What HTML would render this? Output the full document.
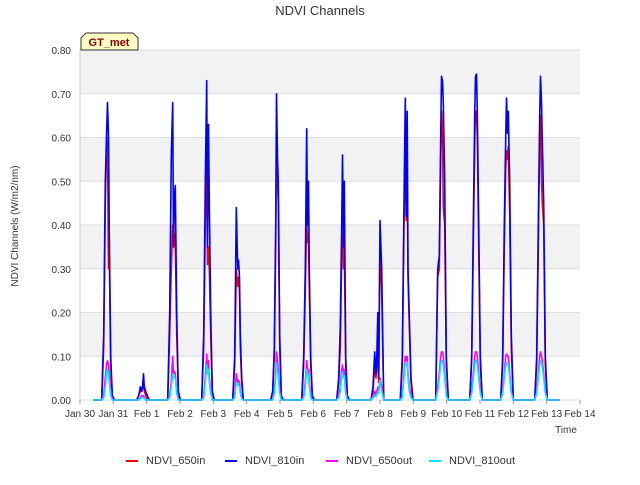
<!DOCTYPE html>
<html><head><meta charset="utf-8"><style>
body{margin:0;background:#fff;font-family:"Liberation Sans",sans-serif}
svg text{font-family:"Liberation Sans",sans-serif}
</style></head><body>
<svg id="c" width="640" height="480" xmlns="http://www.w3.org/2000/svg">
<rect width="640" height="480" fill="#fff"/>
<text x="320" y="15" text-anchor="middle" font-size="13" fill="#333">NDVI Channels</text>
<text transform="translate(18,226) rotate(-90)" text-anchor="middle" font-size="10" fill="#333">NDVI Channels (W/m2/nm)</text>
<text x="566" y="433" text-anchor="middle" font-size="10" fill="#333">Time</text>
<g id="bands"></g><g id="grid"></g><g id="ticks"></g><g id="series"></g>
<g>
<path d="M81,50 L81,38 L86,33 L133,33 L138,38 L138,50 Z" fill="#ffffc4" stroke="#333" stroke-width="1"/>
<text x="109" y="46" text-anchor="middle" font-size="11" font-weight="bold" fill="#8b0000">GT_met</text>
</g>
<g id="legend"></g>
</svg>
<script>
const yTicks=[0,0.1,0.2,0.3,0.4,0.5,0.6,0.7,0.8];
const xTickLabels=["Jan 30","Jan 31","Feb 1","Feb 2","Feb 3","Feb 4","Feb 5","Feb 6","Feb 7","Feb 8","Feb 9","Feb 10","Feb 11","Feb 12","Feb 13","Feb 14"];
const dayCenters=[0.84,1.89,2.82,3.84,4.77,5.91,6.84,7.89,8.92,9.8,10.86,11.88,12.81,13.83];
const offsets=[-0.19,-0.13,-0.08,-0.04,-0.015,0.015,0.04,0.08,0.13,0.19];
const ndvi650in=[
[0,0.12,0.45,0.6,0.58,0.3,0.33,0.08,0.01,0],
[0,0.01,0.02,0.02,0.03,0.03,0.02,0.01,0,0],
[0,0.15,0.3,0.4,0.35,0.38,0.36,0.15,0.02,0],
[0,0.12,0.4,0.55,0.31,0.35,0.3,0.15,0.02,0],
[0,0.08,0.3,0.26,0.28,0.25,0.12,0.04,0,0],
[0,0.02,0.1,0.35,0.6,0.5,0.45,0.12,0.01,0],
[0,0.08,0.25,0.42,0.36,0.38,0.25,0.08,0.01,0],
[0,0.04,0.12,0.33,0.38,0.3,0.35,0.08,0.01,0],
[0,0.02,0.08,0.05,0.08,0.12,0.04,0.35,0.25,0],
[0,0.08,0.4,0.6,0.41,0.52,0.28,0.17,0.04,0],
[0,0.28,0.3,0.55,0.66,0.62,0.44,0.4,0.08,0],
[0,0.09,0.35,0.58,0.66,0.66,0.6,0.35,0.08,0],
[0,0.08,0.35,0.53,0.57,0.55,0.58,0.42,0.12,0],
[0,0.08,0.35,0.6,0.65,0.5,0.45,0.4,0.08,0]];
const ndvi810in=[
[0,0.15,0.5,0.62,0.68,0.6,0.38,0.1,0.01,0],
[0,0.01,0.03,0.02,0.03,0.06,0.03,0.02,0.01,0],
[0,0.2,0.56,0.68,0.35,0.47,0.49,0.2,0.02,0],
[0,0.15,0.5,0.73,0.35,0.63,0.45,0.2,0.02,0],
[0,0.1,0.44,0.3,0.32,0.28,0.15,0.05,0,0],
[0,0.02,0.12,0.4,0.7,0.55,0.5,0.15,0.01,0],
[0,0.1,0.3,0.62,0.4,0.5,0.3,0.1,0.01,0],
[0,0.05,0.17,0.4,0.56,0.35,0.5,0.1,0.01,0],
[0,0.03,0.11,0.06,0.1,0.2,0.05,0.41,0.3,0],
[0,0.1,0.45,0.69,0.42,0.66,0.3,0.19,0.05,0],
[0,0.3,0.33,0.6,0.74,0.73,0.68,0.5,0.1,0],
[0,0.1,0.4,0.65,0.74,0.745,0.66,0.4,0.1,0],
[0,0.1,0.4,0.6,0.69,0.61,0.66,0.5,0.15,0],
[0,0.1,0.4,0.65,0.74,0.68,0.59,0.45,0.1,0]];
const ndvi650out=[
[0,0.01,0.05,0.085,0.09,0.08,0.06,0.02,0,0],
[0,0,0.005,0.01,0.01,0.01,0.005,0,0,0],
[0,0.01,0.04,0.1,0.06,0.065,0.06,0.02,0,0],
[0,0.01,0.05,0.105,0.07,0.09,0.05,0.02,0,0],
[0,0.01,0.06,0.04,0.045,0.04,0.02,0.005,0,0],
[0,0,0.02,0.06,0.11,0.09,0.07,0.02,0,0],
[0,0.01,0.04,0.09,0.07,0.07,0.04,0.01,0,0],
[0,0.01,0.03,0.07,0.08,0.06,0.07,0.02,0,0],
[0,0.01,0.02,0.01,0.02,0.03,0.02,0.05,0.03,0],
[0,0.01,0.06,0.1,0.09,0.1,0.06,0.03,0.01,0],
[0,0.03,0.06,0.1,0.11,0.11,0.1,0.06,0.01,0],
[0,0.02,0.06,0.1,0.11,0.11,0.1,0.06,0.02,0],
[0,0.02,0.06,0.1,0.105,0.1,0.1,0.06,0.02,0],
[0,0.02,0.06,0.1,0.11,0.1,0.09,0.06,0.02,0]];
const ndvi810out=[
[0,0.005,0.03,0.065,0.07,0.06,0.04,0.01,0,0],
[0,0,0.003,0.005,0.006,0.005,0.003,0,0,0],
[0,0.005,0.03,0.06,0.05,0.05,0.05,0.015,0,0],
[0,0.005,0.04,0.08,0.06,0.07,0.04,0.015,0,0],
[0,0.005,0.04,0.035,0.035,0.03,0.015,0.003,0,0],
[0,0,0.015,0.05,0.085,0.07,0.05,0.015,0,0],
[0,0.005,0.03,0.07,0.06,0.055,0.03,0.005,0,0],
[0,0.005,0.02,0.055,0.065,0.05,0.055,0.015,0,0],
[0,0.005,0.01,0.008,0.012,0.02,0.015,0.045,0.02,0],
[0,0.005,0.05,0.085,0.08,0.085,0.05,0.02,0.005,0],
[0,0.02,0.05,0.08,0.09,0.09,0.08,0.05,0.01,0],
[0,0.015,0.05,0.08,0.09,0.09,0.08,0.05,0.015,0],
[0,0.015,0.05,0.08,0.085,0.08,0.08,0.05,0.015,0],
[0,0.015,0.05,0.08,0.09,0.085,0.075,0.05,0.015,0]];
const seriesNames=["NDVI_650in","NDVI_810in","NDVI_650out","NDVI_810out"];
const seriesColors=["#ff0000","#0000ff","#ff00ff","#00e5ff"];
const seriesData=[ndvi650in,ndvi810in,ndvi650out,ndvi810out];

const NS="http://www.w3.org/2000/svg";
const X0=80,X1=580,Y0=400,Y1=50,YMAX=0.8,DAYS=15;
const xs=t=>X0+(X1-X0)*t/DAYS;
const ys=v=>Y0-(Y0-Y1)*v/YMAX;
function mk(tag,attrs,parent){const e=document.createElementNS(NS,tag);for(const k in attrs)e.setAttribute(k,attrs[k]);parent.appendChild(e);return e;}
const bands=document.getElementById('bands');
const bg=mk('rect',{x:X0,y:Y1,width:X1-X0,height:Y0-Y1,fill:'#fff'},bands);


for(let i=1;i<yTicks.length;i+=2){
  const r=mk('rect',{x:X0,y:ys(yTicks[i+1]),width:X1-X0,height:ys(yTicks[i])-ys(yTicks[i+1]),fill:'#f2f2f2'},bands);
  
  
}
const grid=document.getElementById('grid'),ticks=document.getElementById('ticks');
yTicks.forEach(v=>{
  const l=mk('line',{x1:X0,x2:X1,y1:ys(v),y2:ys(v),stroke:'#ddd','stroke-width':1},grid);
  
  
  const t=mk('text',{x:X0-9,y:ys(v)+4,'text-anchor':'end','font-size':10,fill:'#333'},ticks);
  t.textContent=v.toFixed(2);
  
  
});
mk('line',{x1:X0,x2:X0,y1:Y1,y2:Y0,stroke:'#ccc'},grid);
xTickLabels.forEach((s,i)=>{
  mk('line',{x1:xs(i),x2:xs(i),y1:Y0,y2:Y0+4,stroke:'#999'},ticks);
  const t=mk('text',{x:xs(i),y:Y0+17,'text-anchor':'middle','font-size':10,fill:'#333'},ticks);
  t.textContent=s;
  
  
});
const sg=document.getElementById('series');
seriesData.forEach((data,si)=>{
  const pts=[];
  pts.push([xs(0.4),ys(0)]);
  dayCenters.forEach((c,d)=>{offsets.forEach((o,k)=>pts.push([xs(c+o),ys(data[d][k])]));});
  pts.push([xs(14.4),ys(0)]);
  const p=mk('polyline',{points:pts.map(p=>p[0].toFixed(1)+','+p[1].toFixed(1)).join(' '),fill:'none',stroke:seriesColors[si],'stroke-width':1.6,'stroke-linejoin':'round'},sg);
  
  
});
const lg=document.getElementById('legend');
const lx=[126,225,326,429];
seriesNames.forEach((n,i)=>{
  const g=mk('g',{},lg);
  
  
  mk('line',{x1:lx[i],x2:lx[i]+12,y1:461,y2:461,stroke:seriesColors[i],'stroke-width':2},g);
  const t=mk('text',{x:lx[i]+20,y:464,'font-size':11,fill:'#333'},g);
  t.textContent=n;
});
</script>
</body></html>
